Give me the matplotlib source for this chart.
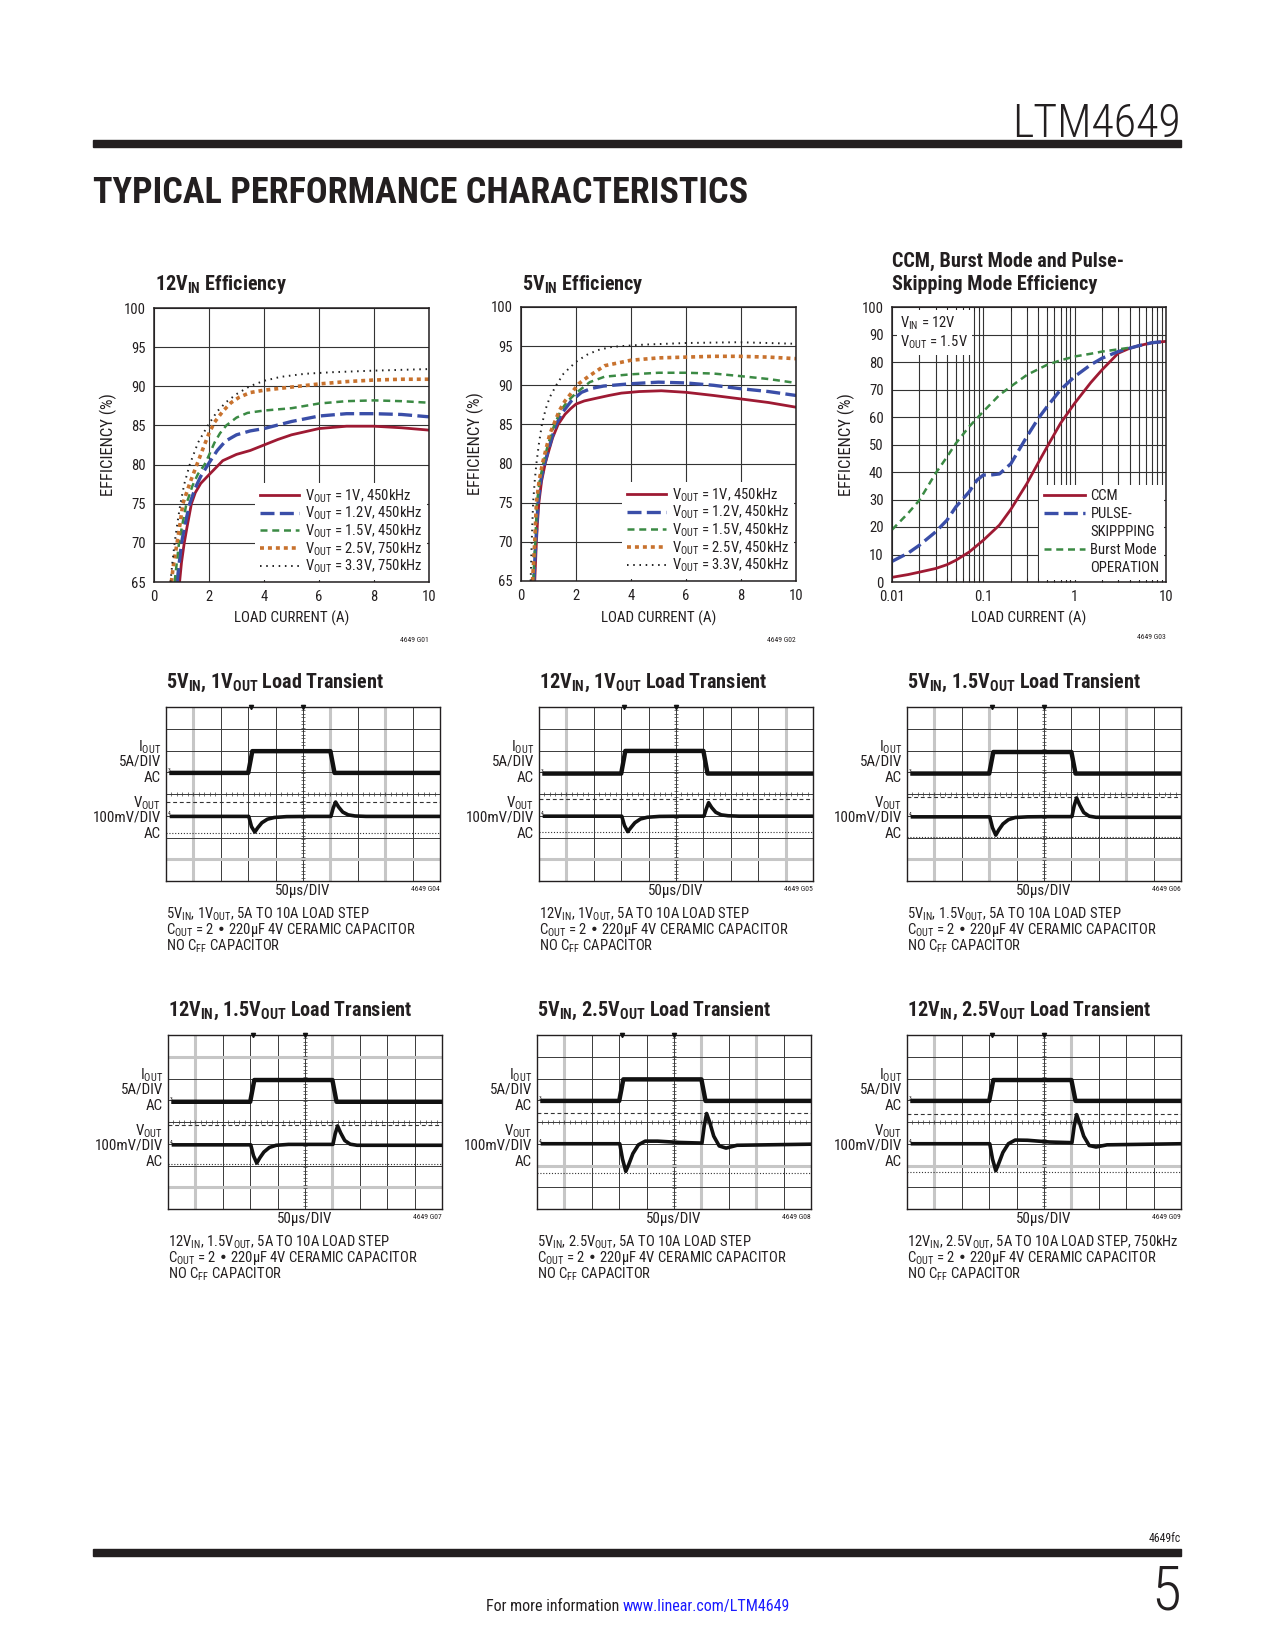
import matplotlib
matplotlib.use('Agg')
import numpy as np
import matplotlib.pyplot as plt
from matplotlib import font_manager
from matplotlib.lines import Line2D
from matplotlib.patches import Rectangle

# ---- efficiency data ----
LOAD_12V_1V0 = [0.93, 1.0, 1.1, 1.2, 1.36, 1.5, 1.7, 2.0, 2.5, 3.0, 3.5, 4.0, 4.5, 5.0, 6.0, 7.0, 8.0, 9.0, 10.0]
EFF_12V_1V0 = [65, 67.5, 70, 72, 75, 76.4, 77.6, 78.7, 80.5, 81.3, 81.8, 82.5, 83.2, 83.8, 84.6, 84.9, 84.9, 84.7, 84.4]
LOAD_12V_1V2 = [0.84, 0.92, 1.0, 1.15, 1.3, 1.5, 1.7, 2.0, 2.3, 2.6, 3.0, 3.5, 4.0, 5.0, 6.0, 7.0, 8.0, 9.0, 10.0]
EFF_12V_1V2 = [65, 67.5, 70, 72.7, 75, 77, 78.5, 80.2, 81.8, 83, 83.8, 84.3, 84.6, 85.5, 86.2, 86.5, 86.5, 86.4, 86.1]
LOAD_12V_1V5 = [0.75, 0.83, 0.91, 1.05, 1.18, 1.4, 1.6, 1.84, 2.0, 2.2, 2.4, 2.63, 3.0, 3.4, 4.0, 5.0, 6.0, 7.0, 8.0, 9.0, 10.0]
EFF_12V_1V5 = [65, 67.5, 70, 72.7, 75, 77.3, 78.8, 80, 81.2, 82.8, 84, 85, 86, 86.6, 86.9, 87.2, 87.8, 88.1, 88.2, 88.1, 87.9]
LOAD_12V_2V5 = [0.63, 0.72, 0.84, 0.95, 1.05, 1.3, 1.56, 1.8, 2.0, 2.2, 2.5, 2.8, 3.1, 3.5, 4.0, 5.0, 6.0, 7.0, 8.0, 9.0, 10.0]
EFF_12V_2V5 = [65, 67.5, 70, 72.5, 75, 77.6, 80, 82.2, 84, 85.4, 86.8, 87.9, 88.6, 89.2, 89.5, 89.9, 90.3, 90.6, 90.8, 90.9, 90.9]
LOAD_12V_3V3 = [0.6, 0.67, 0.75, 0.85, 0.96, 1.1, 1.3, 1.6, 1.96, 2.3, 2.63, 3.0, 3.48, 4.0, 4.6, 5.5, 6.5, 8.0, 9.0, 10.0]
EFF_12V_3V3 = [65, 67.5, 70, 72.5, 75, 77.5, 80, 82.8, 85, 86.8, 88, 89, 90, 90.7, 91.2, 91.6, 91.8, 92, 92.1, 92.2]

LOAD_5V_1V0 = [0.5, 0.53, 0.56, 0.6, 0.65, 0.75, 0.88, 1.0, 1.15, 1.35, 1.6, 1.8, 2.0, 2.3, 2.68, 3.2, 3.65, 4.3, 5.1, 6.0, 7.0, 7.9, 9.0, 10.0]
EFF_5V_1V0 = [65, 67.5, 70, 72.5, 75, 77.8, 80, 81.5, 83.3, 85, 86.3, 87, 87.6, 88, 88.3, 88.7, 89, 89.2, 89.3, 89.1, 88.7, 88.3, 87.8, 87.2]
LOAD_5V_1V2 = [0.47, 0.5, 0.54, 0.58, 0.62, 0.72, 0.86, 1.0, 1.15, 1.28, 1.5, 1.83, 2.2, 2.56, 3.0, 4.0, 5.0, 6.0, 7.0, 7.9, 9.0, 10.0]
EFF_5V_1V2 = [65, 67.5, 70, 72.5, 75, 77.8, 80, 81.8, 83.6, 85, 86.5, 88, 89.1, 89.6, 89.9, 90.2, 90.4, 90.3, 90.0, 89.6, 89.2, 88.7]
LOAD_5V_1V5 = [0.45, 0.48, 0.52, 0.55, 0.58, 0.68, 0.81, 0.95, 1.1, 1.22, 1.45, 1.7, 2.07, 2.5, 3.04, 4.0, 5.0, 6.0, 7.0, 7.9, 9.0, 10.0]
EFF_5V_1V5 = [65, 67.5, 70, 72.5, 75, 77.8, 80, 82, 83.8, 85, 86.8, 88, 89.2, 90.4, 91.1, 91.4, 91.6, 91.6, 91.5, 91.2, 90.8, 90.3]
LOAD_5V_2V5 = [0.42, 0.46, 0.5, 0.53, 0.56, 0.66, 0.78, 0.92, 1.05, 1.19, 1.4, 1.6, 1.83, 2.1, 2.44, 3.04, 4.0, 5.0, 6.0, 7.0, 7.9, 9.0, 10.0]
EFF_5V_2V5 = [65, 67.5, 70, 72.5, 75, 77.8, 80, 82, 83.8, 85, 86.8, 88, 89, 90.2, 91.1, 92.5, 93.2, 93.5, 93.6, 93.7, 93.7, 93.6, 93.4]
LOAD_5V_3V3 = [0.35, 0.39, 0.44, 0.5, 0.56, 0.65, 0.76, 0.9, 1.05, 1.28, 1.55, 2.0, 2.4, 2.8, 3.3, 3.65, 4.5, 6.0, 7.9, 9.0, 10.0]
EFF_5V_3V3 = [65, 70, 75, 77.8, 80, 82.5, 85, 87, 88.5, 90, 91.5, 93, 93.9, 94.5, 94.9, 95.0, 95.2, 95.4, 95.5, 95.4, 95.3]

LOAD_CCM = [0.01, 0.015, 0.02, 0.03, 0.04, 0.05, 0.07, 0.1, 0.15, 0.2, 0.3, 0.4, 0.5, 0.7, 1.0, 1.5, 2.0, 3.0, 4.0, 5.0, 7.0, 10.0]
EFF_CCM = [1.7, 2.7, 3.6, 4.9, 6.3, 7.9, 10.9, 15.2, 20.7, 26.4, 35.8, 43.4, 49.2, 57.7, 65.0, 72.5, 77.2, 83.2, 85.0, 85.9, 87.0, 87.5]
LOAD_PS = [0.01, 0.015, 0.02, 0.03, 0.04, 0.05, 0.07, 0.085, 0.1, 0.12, 0.15, 0.2, 0.3, 0.4, 0.5, 0.7, 1.0, 1.5, 2.0, 3.0, 4.0, 5.0, 7.0, 10.0]
EFF_PS = [7.5, 10.5, 13.4, 18.2, 22.5, 27.3, 32.8, 37.0, 38.9, 38.9, 39.3, 43.0, 52.9, 59.5, 63.8, 69.9, 74.7, 79.0, 81.4, 83.8, 85.0, 85.9, 87.0, 87.5]
LOAD_BURST = [0.01, 0.015, 0.02, 0.03, 0.04, 0.05, 0.07, 0.1, 0.15, 0.2, 0.3, 0.5, 0.7, 1.0, 1.5, 2.0, 3.0, 4.0]
EFF_BURST = [19.0, 25.0, 29.8, 39.5, 45.5, 50.4, 56.5, 62.0, 68.0, 71.1, 75.3, 79.0, 80.6, 82.0, 83.0, 83.8, 84.6, 85.2]

LABELS_12V = ['1V, 450kHz', '1.2V, 450kHz', '1.5V, 450kHz', '2.5V, 750kHz', '3.3V, 750kHz']
LABELS_5V = ['1V, 450kHz', '1.2V, 450kHz', '1.5V, 450kHz', '2.5V, 450kHz', '3.3V, 450kHz']

# ---- load transient scope traces, in screen divisions (10 x 8) ----
IOUT_T = [0.2, 3.0, 3.15, 6.0, 6.15, 10.0]
iout_g04 = [4.97, 4.97, 5.97, 5.97, 4.97, 4.97]
iout_g05 = [4.94, 4.94, 5.98, 5.98, 4.94, 4.94]
iout_g06 = [4.94, 4.94, 5.93, 5.93, 4.94, 4.94]
iout_g07 = [4.93, 4.93, 5.93, 5.93, 4.93, 4.93]
iout_g08 = [4.97, 4.97, 5.96, 5.96, 4.97, 4.97]
iout_g09 = [4.97, 4.97, 5.93, 5.93, 4.97, 4.97]

VOUT_T = [0.2, 3.02, 3.12, 3.24, 3.35, 3.5, 3.7, 3.95, 4.4, 5.2, 6.02, 6.1, 6.19, 6.3, 6.45, 6.65, 6.9, 7.3, 10.0]
vout_g04 = [2.97, 2.97, 2.5, 2.25, 2.45, 2.68, 2.84, 2.92, 2.96, 2.97, 2.97, 3.35, 3.63, 3.4, 3.17, 3.04, 2.99, 2.97, 2.97]
vout_g05 = [2.98, 2.98, 2.55, 2.27, 2.45, 2.68, 2.85, 2.93, 2.97, 2.98, 2.98, 3.3, 3.6, 3.38, 3.16, 3.04, 3.0, 2.98, 2.98]
vout_g06 = [2.95, 2.95, 2.45, 2.11, 2.35, 2.62, 2.82, 2.92, 2.95, 2.96, 2.96, 3.45, 3.82, 3.5, 3.15, 2.98, 2.93, 2.93, 2.93]
vout_g07 = [2.95, 2.95, 2.45, 2.11, 2.35, 2.62, 2.83, 2.93, 2.97, 2.97, 2.97, 3.45, 3.82, 3.5, 3.15, 2.98, 2.93, 2.93, 2.93]
vout_g08 = [3.0, 3.0, 2.3, 1.73, 2.05, 2.55, 2.95, 3.12, 3.12, 3.06, 3.03, 3.8, 4.39, 4.0, 3.35, 2.9, 2.8, 2.93, 2.98]
vout_g09 = [3.0, 3.0, 2.3, 1.76, 2.1, 2.6, 3.0, 3.17, 3.16, 3.08, 3.05, 3.8, 4.34, 3.95, 3.35, 2.92, 2.85, 2.95, 3.0]

CURSOR_DASH = [3.63, 3.75, 3.87, 3.87, 4.43, 4.37]
CURSOR_DOT = [2.22, 2.23, 2.03, 2.06, 1.65, 1.70]
TRIGGER_MARKS = [3.1, 5.0]

SCOPE_VIN = ['5', '12', '5', '12', '5', '12']
SCOPE_VOUT = ['1', '1', '1.5', '1.5', '2.5', '2.5']
SCOPE_EXTRA = ['', '', '', '', '', ', 750kHz']
SCOPE_CODES = ['4649 G04', '4649 G05', '4649 G06', '4649 G07', '4649 G08', '4649 G09']

# ---- layout (page pixels) ----
W, H = 1275, 1650
SC_L = [166, 539, 907, 168, 537, 907]
SC_T = [707, 707, 707, 1035, 1035, 1035]
SC_W, SC_H = 274, 174
GREY_V = [[1, 6, 8], [1, 9], [1, 3, 8], [1, 6], [1, 6, 8], [1, 6]]
GREY_H = [[1], [1], [1], [1, 7], [2], [2]]

RED, BLUE, GREEN, ORANGE, DOTS = '#9e1a33', '#3a4ea8', '#3b8a44', '#c8722e', '#222222'
INK = '#231f20'

installed = {f.name for f in font_manager.fontManager.ttflist}


def pick(*names):
    for n in names:
        if n in installed:
            return n
    return 'DejaVu Sans'


NARROW = pick('Liberation Sans Narrow', 'Roboto Condensed', 'Liberation Sans')
plt.rcParams['font.family'] = [NARROW, 'DejaVu Sans']
plt.rcParams['text.color'] = INK


def sub(s):
    return r'$_{\mathregular{' + s + '}}$'


fig = plt.figure(figsize=(W / 100, H / 100), dpi=100)
page = fig.add_axes([0, 0, 1, 1])
page.set_xlim(0, W)
page.set_ylim(H, 0)
page.axis('off')


def panel(l, t, r, b):
    return fig.add_axes([l / W, 1 - b / H, (r - l) / W, (b - t) / H])


# header / footer
page.text(1181, 137, 'LTM4649', ha='right', va='baseline', fontsize=33, fontweight='light')
page.add_patch(Rectangle((93, 140), 1088, 7, color=INK))
page.text(93, 203, 'TYPICAL PERFORMANCE CHARACTERISTICS', ha='left', va='baseline',
          fontsize=26, fontweight='heavy')
page.text(1181, 1542, '4649fc', ha='right', va='baseline', fontsize=8.5)
page.add_patch(Rectangle((93, 1549), 1088, 7, color=INK))
page.text(1181, 1610, '5', ha='right', va='baseline', fontsize=44, fontweight='light')
page.text(623, 1611, 'For more information ', ha='right', va='baseline', fontsize=11.5)
page.text(623, 1611, 'www.linear.com/LTM4649', ha='left', va='baseline', fontsize=11.5, color='#1a1aff')

STYLES = [
    dict(color=RED, lw=2.0, ls='-'),
    dict(color=BLUE, lw=2.4, dashes=(4.2, 1.6)),
    dict(color=GREEN, lw=1.8, dashes=(2.8, 1.9)),
    dict(color=ORANGE, lw=2.6, dashes=(1.1, 1.1)),
    dict(color=DOTS, lw=1.4, dashes=(0.8, 2.4)),
]


def style_axes(ax):
    ax.grid(True, color='#333333', lw=0.8)
    ax.set_axisbelow(True)
    ax.tick_params(length=0, labelsize=10.5, pad=6, colors=INK)
    for s in ax.spines.values():
        s.set_linewidth(1.1)
        s.set_color(INK)


def efficiency_chart(box, title_x, title, loads, effs, labels, code, ylabel_x):
    ax = panel(*box)
    for x, y, lab, st in zip(loads, effs, labels, STYLES):
        ax.plot(x, y, label='V' + sub('OUT') + ' = ' + lab, **st)
    ax.set_xlim(0, 10)
    ax.set_ylim(65, 100)
    ax.set_xticks([0, 2, 4, 6, 8, 10])
    ax.set_yticks(range(65, 101, 5))
    style_axes(ax)
    leg = ax.legend(loc='lower right', fontsize=10.5, handlelength=2.7, handletextpad=0.4,
                    labelspacing=0.0, borderaxespad=0.15, borderpad=0.3, frameon=True,
                    fancybox=False, framealpha=1)
    leg.get_frame().set_edgecolor('none')
    page.text(title_x, 290, title, ha='left', va='baseline', fontsize=14.5, fontweight='bold')
    page.text((box[0] + box[2]) / 2, 623, 'LOAD CURRENT (A)', ha='center', va='baseline', fontsize=10.8)
    page.text(ylabel_x, (box[1] + box[3]) / 2, 'EFFICIENCY (%)', ha='center', va='center',
              rotation=90, fontsize=12)
    page.text(box[2], 642, code, ha='right', va='baseline', fontsize=5.5)
    return ax


efficiency_chart((154, 308, 429, 582), 155, '12V' + sub('IN') + ' Efficiency',
                 [LOAD_12V_1V0, LOAD_12V_1V2, LOAD_12V_1V5, LOAD_12V_2V5, LOAD_12V_3V3],
                 [EFF_12V_1V0, EFF_12V_1V2, EFF_12V_1V5, EFF_12V_2V5, EFF_12V_3V3],
                 LABELS_12V, '4649 G01', 108)
efficiency_chart((521, 307, 796, 581), 522, '5V' + sub('IN') + ' Efficiency',
                 [LOAD_5V_1V0, LOAD_5V_1V2, LOAD_5V_1V5, LOAD_5V_2V5, LOAD_5V_3V3],
                 [EFF_5V_1V0, EFF_5V_1V2, EFF_5V_1V5, EFF_5V_2V5, EFF_5V_3V3],
                 LABELS_5V, '4649 G02', 475)

# mode efficiency (log x)
box3 = (892, 307, 1166, 582)
ax3 = panel(*box3)
ax3.plot(LOAD_CCM, EFF_CCM, **STYLES[0])
ax3.plot(LOAD_PS, EFF_PS, **STYLES[1])
ax3.plot(LOAD_BURST, EFF_BURST, **STYLES[2])
ax3.set_xscale('log')
ax3.set_xlim(0.01, 10)
ax3.set_ylim(0, 100)
ax3.set_yticks(range(0, 101, 10))
ax3.set_xticks([0.01, 0.1, 1, 10])
ax3.set_xticklabels(['0.01', '0.1', '1', '10'])
style_axes(ax3)
ax3.grid(True, which='minor', axis='x', color='#333333', lw=0.8)
ax3.tick_params(which='minor', direction='in', length=3, top=True, colors=INK, labelbottom=False)
blank = Line2D([], [], color='none')
h3 = [Line2D([], [], **STYLES[0]), Line2D([], [], **STYLES[1]), blank, Line2D([], [], **STYLES[2]), blank]
leg3 = ax3.legend(h3, ['CCM', 'PULSE-', 'SKIPPPING', 'Burst Mode', 'OPERATION'], loc='lower right',
                  fontsize=10.5, handlelength=2.8, handletextpad=0.4, labelspacing=0.28,
                  borderaxespad=0.15, borderpad=0.3, frameon=True, fancybox=False, framealpha=1)
leg3.get_frame().set_edgecolor('none')
ax3.text(0.03, 0.975, 'V' + sub('IN') + ' = 12V\nV' + sub('OUT') + ' = 1.5V', transform=ax3.transAxes,
         ha='left', va='top', fontsize=10.5, linespacing=1.15,
         bbox=dict(facecolor='white', edgecolor='none', pad=2.5))
page.text(892, 267, 'CCM, Burst Mode and Pulse-', ha='left', va='baseline', fontsize=14.5, fontweight='bold')
page.text(892, 290, 'Skipping Mode Efficiency', ha='left', va='baseline', fontsize=14.5, fontweight='bold')
page.text((box3[0] + box3[2]) / 2, 623, 'LOAD CURRENT (A)', ha='center', va='baseline', fontsize=10.8)
page.text(846, 445, 'EFFICIENCY (%)', ha='center', va='center', rotation=90, fontsize=12)
page.text(box3[2], 639, '4649 G03', ha='right', va='baseline', fontsize=5.5)

# load transient scope shots
IOUTS = [iout_g04, iout_g05, iout_g06, iout_g07, iout_g08, iout_g09]
VOUTS = [vout_g04, vout_g05, vout_g06, vout_g07, vout_g08, vout_g09]
minor = np.arange(0.2, 10, 0.2)
for i in range(6):
    l, t = SC_L[i], SC_T[i]
    r, b = l + SC_W, t + SC_H
    ax = panel(l, t, r, b)
    ax.set_xlim(0, 10)
    ax.set_ylim(0, 8)
    ax.set_xticks([])
    ax.set_yticks([])
    for s in ax.spines.values():
        s.set_linewidth(1.0)
        s.set_color(INK)
    for x in range(1, 10):
        g = x in GREY_V[i]
        ax.axvline(x, color='#c6c6c6' if g else '#3a3a3a', lw=2.2 if g else 0.7, zorder=1)
    for y in range(1, 8):
        g = y in GREY_H[i]
        ax.axhline(y, color='#c6c6c6' if g else '#3a3a3a', lw=2.2 if g else 0.7, zorder=1)
    ax.plot(minor, np.full(minor.size, 4.0), ls='none', marker='|', ms=2.5, mew=0.5, color='#3a3a3a')
    ax.plot(np.full(minor.size, 5.0), minor * 0.8, ls='none', marker='_', ms=2.5, mew=0.5, color='#3a3a3a')
    ax.axhline(CURSOR_DASH[i], color='#333333', lw=0.8, ls=(0, (3.5, 2.5)), zorder=2)
    ax.axhline(CURSOR_DOT[i], color='#333333', lw=0.8, ls=(0, (1, 1.6)), zorder=2)
    ax.plot(IOUT_T, IOUTS[i], color='#111111', lw=3.2, zorder=3)
    ax.plot(VOUT_T, VOUTS[i], color='#111111', lw=2.6, zorder=3)
    ax.plot(TRIGGER_MARKS, [8, 8], ls='none', marker='v', ms=3, color='#111111', clip_on=False, zorder=4)
    ax.text(0.08, IOUTS[i][0], '3', fontsize=4, va='bottom', ha='left')
    ax.text(0.08, VOUTS[i][0], '4', fontsize=4, va='bottom', ha='left')

    vin, vout = SCOPE_VIN[i], SCOPE_VOUT[i]
    page.text(l, t - 19, vin + 'V' + sub('IN') + ', ' + vout + 'V' + sub('OUT') + ' Load Transient',
              ha='left', va='baseline', fontsize=14.5, fontweight='bold')
    side = ['I' + sub('OUT'), '5A/DIV', 'AC', 'V' + sub('OUT'), '100mV/DIV', 'AC']
    for txt, dy in zip(side, [44, 59, 75, 100, 115, 131]):
        page.text(l - 5, t + dy, txt, ha='right', va='baseline', fontsize=10.8)
    page.text((l + r) / 2, b + 14, '50µs/DIV', ha='center', va='baseline', fontsize=10.8)
    page.text(r, b + 10, SCOPE_CODES[i], ha='right', va='baseline', fontsize=5.5)
    notes = [vin + 'V' + sub('IN') + ', ' + vout + 'V' + sub('OUT') + ', 5A TO 10A LOAD STEP' + SCOPE_EXTRA[i],
             'C' + sub('OUT') + ' = 2 • 220µF 4V CERAMIC CAPACITOR',
             'NO C' + sub('FF') + ' CAPACITOR']
    for txt, dy in zip(notes, [37, 53, 69]):
        page.text(l, b + dy, txt, ha='left', va='baseline', fontsize=10.5)

fig.savefig('out.png', dpi=100, facecolor='white')
